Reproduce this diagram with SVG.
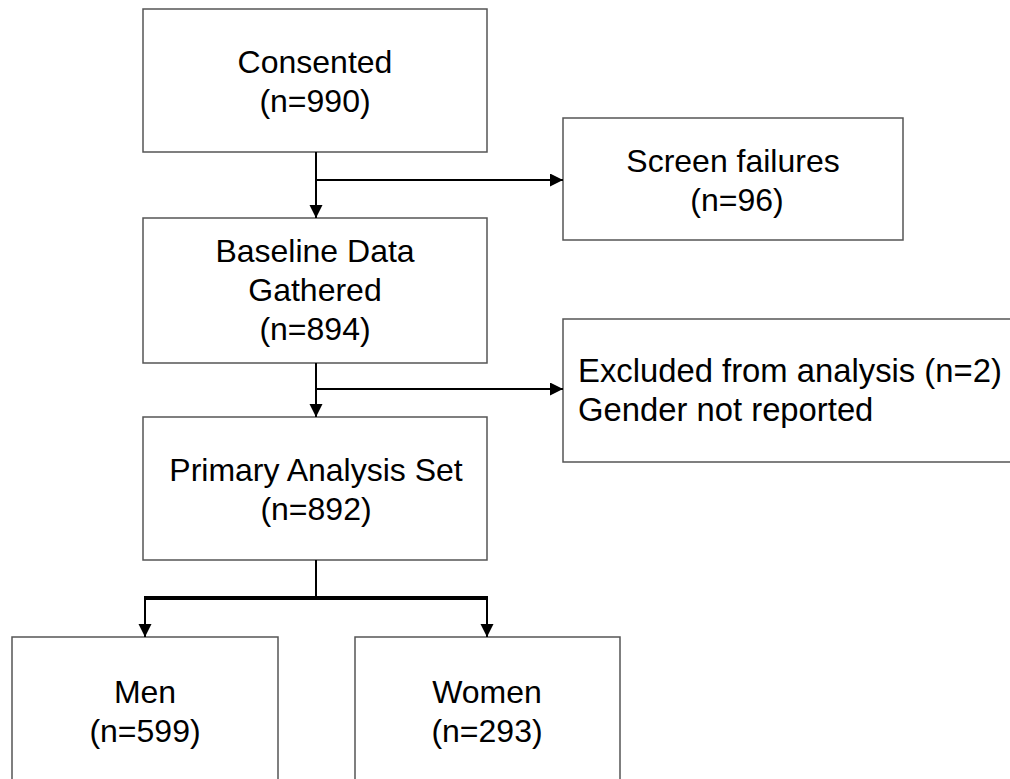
<svg xmlns="http://www.w3.org/2000/svg" width="1010" height="779" viewBox="0 0 1010 779">
<style>
.box{fill:#fff;stroke:#555;stroke-width:1.5}
.t{font-family:"Liberation Sans",Arial,sans-serif;font-size:32px;fill:#000}
.c{text-anchor:middle}
.ln{fill:none;stroke:#000;stroke-width:2}
.thick{fill:none;stroke:#000;stroke-width:4}
</style>
<defs>
<marker id="ah" markerUnits="userSpaceOnUse" markerWidth="14" markerHeight="14" refX="13" refY="6.5" orient="auto">
<path d="M0,0 L13,6.5 L0,13 z" fill="#000"/>
</marker>
</defs>
<rect width="1010" height="779" fill="#fff"/>
<g id="consented"><rect class="box" x="143" y="9" width="344" height="143"/><text class="t c" x="315" y="73">Consented</text><text class="t c" x="315" y="112">(n=990)</text></g>
<g id="screen"><rect class="box" x="563" y="118" width="340" height="122"/><text class="t c" x="733" y="172">Screen failures</text><text class="t c" x="737" y="211">(n=96)</text></g>
<g id="baseline"><rect class="box" x="143" y="218" width="344" height="145"/><text class="t c" x="315" y="262">Baseline Data</text><text class="t c" x="315" y="301">Gathered</text><text class="t c" x="315" y="340">(n=894)</text></g>
<g id="excluded"><rect class="box" x="563" y="319" width="460" height="143"/><text class="t" x="578" y="382" style="font-size:32.8px">Excluded from analysis (n=2)</text><text class="t" x="578" y="421" style="font-size:32.8px">Gender not reported</text></g>
<g id="primary"><rect class="box" x="143" y="417" width="344" height="143"/><text class="t c" x="316" y="481">Primary Analysis Set</text><text class="t c" x="316" y="520">(n=892)</text></g>
<g id="men"><rect class="box" x="12" y="637" width="266" height="160"/><text class="t c" x="145" y="703">Men</text><text class="t c" x="145" y="742">(n=599)</text></g>
<g id="women"><rect class="box" x="355" y="637" width="265" height="160"/><text class="t c" x="487" y="703">Women</text><text class="t c" x="487" y="742">(n=293)</text></g>
<g id="connectors">
<line class="ln" x1="316" y1="152" x2="316" y2="218" marker-end="url(#ah)"/>
<line class="ln" x1="316" y1="180" x2="563" y2="180" marker-end="url(#ah)"/>
<line class="ln" x1="316" y1="363" x2="316" y2="417" marker-end="url(#ah)"/>
<line class="ln" x1="316" y1="389" x2="563" y2="389" marker-end="url(#ah)"/>
<line class="ln" x1="316" y1="560" x2="316" y2="598"/>
<line class="thick" x1="144" y1="598" x2="488" y2="598"/>
<line class="ln" x1="145" y1="597" x2="145" y2="637" stroke-width="3" marker-end="url(#ah)"/>
<line class="ln" x1="487" y1="597" x2="487" y2="637" stroke-width="3" marker-end="url(#ah)"/>
</g>
</svg>
